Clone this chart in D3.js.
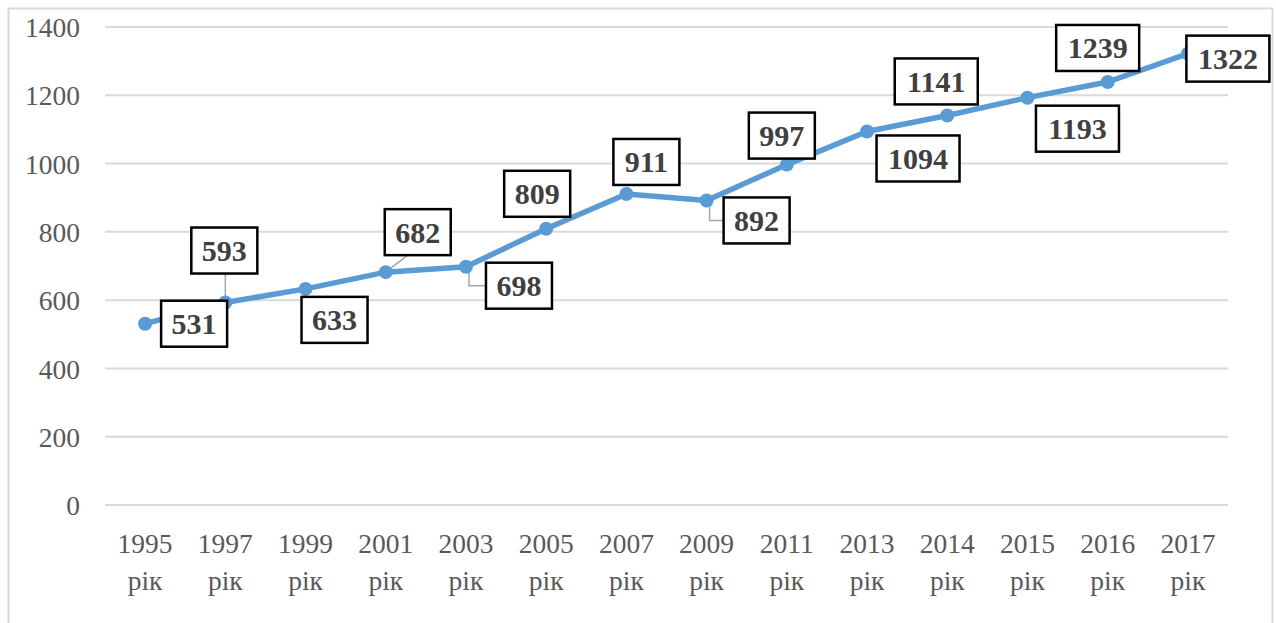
<!DOCTYPE html>
<html>
<head>
<meta charset="utf-8">
<script src="https://cdn.jsdelivr.net/npm/d3@7"></script>
<style>
  body { margin: 0; background: #fff; }
  svg { display: block; font-family: "Liberation Serif", "Times New Roman", serif; }
</style>
</head>
<body>
<div id="chart"></div>
<script>
// data
const years = ["1995", "1997", "1999", "2001", "2003", "2005", "2007", "2009", "2011", "2013", "2014", "2015", "2016", "2017"];
const values = [531, 593, 633, 682, 698, 809, 911, 892, 997, 1094, 1141, 1193, 1239, 1322];
const yTicks = [0, 200, 400, 600, 800, 1000, 1200, 1400];

// where each data label sits relative to its point (layout only)
const labelOffsets = [[49, 0], [-1, -52], [29, 31], [32, -40], [53, 19], [-9, -35], [20, -32],
    [50, 20], [-5, -29], [51, 27], [-11, -34], [50, 31], [-10, -34], [40, 5]];
// leader line kind per label: none, straight or elbow
const leaders = ["", "v", "", "d", "e", "", "", "e", "", "", "", "", "", ""];

const width = 1276, height = 623;
const margin = { top: 27, right: 48, bottom: 118, left: 105 };
const innerW = width - margin.left - margin.right;
const innerH = height - margin.top - margin.bottom;
const serif = "Liberation Serif, Times New Roman, serif";

const svg = d3.select("#chart")
    .append("svg")
    .attr("width", width)
    .attr("height", height);

// outer frame of the chart area
svg.append("rect")
    .attr("x", 8.5)
    .attr("y", 8.5)
    .attr("width", 1264)
    .attr("height", 640)
    .attr("fill", "none")
    .attr("stroke", "#d9d9d9")
    .attr("stroke-width", 2);

const g = svg.append("g")
    .attr("transform", `translate(${margin.left},${margin.top})`);

const x = d3.scaleBand()
    .domain(years)
    .range([0, innerW]);

const y = d3.scaleLinear()
    .domain([0, 1400])
    .range([innerH, 0]);

// grid lines
g.append("g")
    .selectAll("line")
    .data(yTicks)
    .join("line")
    .attr("x1", 0)
    .attr("x2", innerW)
    .attr("y1", d => y(d))
    .attr("y2", d => y(d))
    .attr("stroke", "#d9d9d9")
    .attr("stroke-width", 2);

// y axis labels
const yAxis = d3.axisLeft(y).tickValues(yTicks).tickFormat(d3.format("d")).tickSize(0).tickPadding(25);
g.append("g")
    .call(yAxis)
    .call(a => a.select(".domain").remove())
    .selectAll("text")
    .attr("font-family", serif)
    .attr("font-size", 27.5)
    .attr("fill", "#595959")
    .attr("dy", "0.35em");

// x axis labels (two lines)
const xAxis = d3.axisBottom(x).tickSize(0).tickFormat("");
const xg = g.append("g")
    .attr("transform", `translate(0,${innerH})`)
    .call(xAxis);
xg.select(".domain").remove();
xg.selectAll(".tick").append("text")
    .attr("font-family", serif)
    .attr("font-size", 27.5)
    .attr("fill", "#595959")
    .attr("text-anchor", "middle")
    .selectAll("tspan")
    .data(d => [d, "рік"])
    .join("tspan")
    .attr("x", 0)
    .attr("y", (d, i) => 48 + i * 37)
    .text(d => d);

const cx = i => x(years[i]) + x.bandwidth() / 2;

// the line
g.append("path")
    .datum(values)
    .attr("d", d3.line()
        .x((d, i) => cx(i))
        .y(d => y(d)))
    .attr("fill", "none")
    .attr("stroke", "#5b9bd5")
    .attr("stroke-width", 5.5)
    .attr("stroke-linejoin", "round");

// leader lines
values.forEach((v, i) => {
    const kind = leaders[i];
    if (!kind) return;
    const px = cx(i), py = y(v);
    const lx = px + labelOffsets[i][0], ly = py + labelOffsets[i][1];
    let pts;
    if (kind === "v") pts = [[px, py], [px, ly + 23]];
    else if (kind === "d") pts = [[px, py], [lx - 10, ly + 23]];
    else pts = [[px + 3, py], [px + 3, ly], [lx - 33, ly]];
    g.append("path")
        .attr("d", d3.line()(pts))
        .attr("fill", "none")
        .attr("stroke", "#a6a6a6")
        .attr("stroke-width", 1.5);
});

// markers
g.append("g")
    .selectAll("circle")
    .data(values)
    .join("circle")
    .attr("cx", (d, i) => cx(i))
    .attr("cy", d => y(d))
    .attr("r", 7)
    .attr("fill", "#5b9bd5");

// data labels in boxes
const labels = g.append("g")
    .selectAll("g")
    .data(values)
    .join("g")
    .attr("transform", (d, i) => `translate(${cx(i) + labelOffsets[i][0]},${y(d) + labelOffsets[i][1]})`);

labels.append("rect")
    .attr("x", d => String(d).length > 3 ? -41.5 : -33)
    .attr("y", -23)
    .attr("width", d => String(d).length > 3 ? 83 : 66)
    .attr("height", 46)
    .attr("fill", "#fff")
    .attr("stroke", "#000")
    .attr("stroke-width", 2.5);

labels.append("text")
    .attr("text-anchor", "middle")
    .attr("dy", "0.35em")
    .attr("font-family", serif)
    .attr("font-size", 30)
    .attr("font-weight", "bold")
    .attr("fill", "#404040")
    .text(d => d);
</script>
</body>
</html>
